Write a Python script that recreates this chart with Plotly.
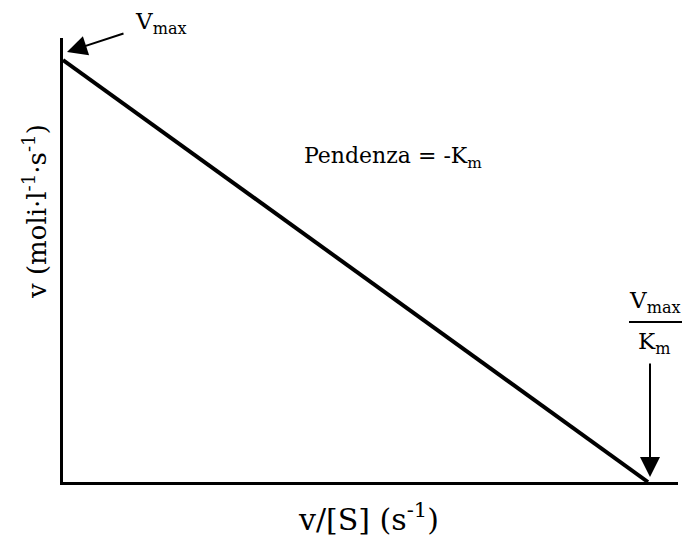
import plotly.graph_objects as go

# Eadie-Hofstee plot: v against v/[S]
vmax = 1.0          # intercept on the v axis
km = 1.0            # Michaelis constant (slope = -Km)
x_vals = [0.0, vmax / km]   # v/[S]
y_vals = [vmax, 0.0]        # v

FONT = "DejaVu Serif"

# plot area in pixels (used to place the free-standing labels)
L, R, T, B = 63, 678, 38, 482
W, H = 688, 543


def px(xp):
    return (xp - L) / (R - L)


def py(yp):
    return (B - yp) / (B - T)


def label(xp, yp, text, size, angle=0):
    return dict(x=px(xp), y=py(yp), xref="paper", yref="paper",
                xanchor="center", yanchor="middle", textangle=angle,
                text=text, showarrow=False,
                font=dict(family=FONT, size=size, color="black"))


fig = go.Figure()
fig.add_trace(go.Scatter(
    x=x_vals, y=y_vals, mode="lines",
    line=dict(color="black", width=4),
    showlegend=False, hoverinfo="skip",
))

x_end = x_vals[1]
fig.update_xaxes(range=[0, x_end * (R - L) / (648 - L)],
                 showline=True, linecolor="black", linewidth=3,
                 showgrid=False, zeroline=False, showticklabels=False, ticks="")
fig.update_yaxes(range=[0, vmax * (B - T) / (B - 60)],
                 showline=True, linecolor="black", linewidth=3,
                 showgrid=False, zeroline=False, showticklabels=False, ticks="")

annotations = [
    # arrow pointing at the intercept Vmax
    dict(x=0, y=vmax, xref="x", yref="y", text="", showarrow=True,
         ax=58, ay=-19, xshift=4, yshift=8,
         arrowhead=2, arrowsize=2, arrowwidth=2, arrowcolor="black"),
    label(161, 23, "V<sub>max</sub>", 23),
    # arrow pointing at the intercept Vmax/Km
    dict(x=x_end, y=0, xref="x", yref="y", text="", showarrow=True,
         ax=0, ay=-115, xshift=2, yshift=5,
         arrowhead=2, arrowsize=2, arrowwidth=2, arrowcolor="black"),
    label(655, 302, "V<sub>max</sub>", 23),
    label(654, 343, "K<sub>m</sub>", 23),
    # slope label
    label(393, 157, "Pendenza = -K<sub>m</sub>", 22),
    # axis titles
    label(368, 517, "v/[S] (s<sup>-1</sup>)", 30),
    label(35, 212, "v (moli·l<sup>-1</sup>·s<sup>-1</sup>)", 26, -90),
]

# fraction bar of Vmax/Km
shapes = [
    dict(type="line", xref="paper", yref="paper",
         x0=px(629), x1=px(682), y0=py(322), y1=py(322),
         line=dict(color="black", width=2)),
]

fig.update_layout(
    width=W, height=H,
    margin=dict(l=L, r=W - R, t=T, b=H - B),
    paper_bgcolor="white", plot_bgcolor="white",
    annotations=annotations, shapes=shapes,
)

fig.write_html("out.html")
